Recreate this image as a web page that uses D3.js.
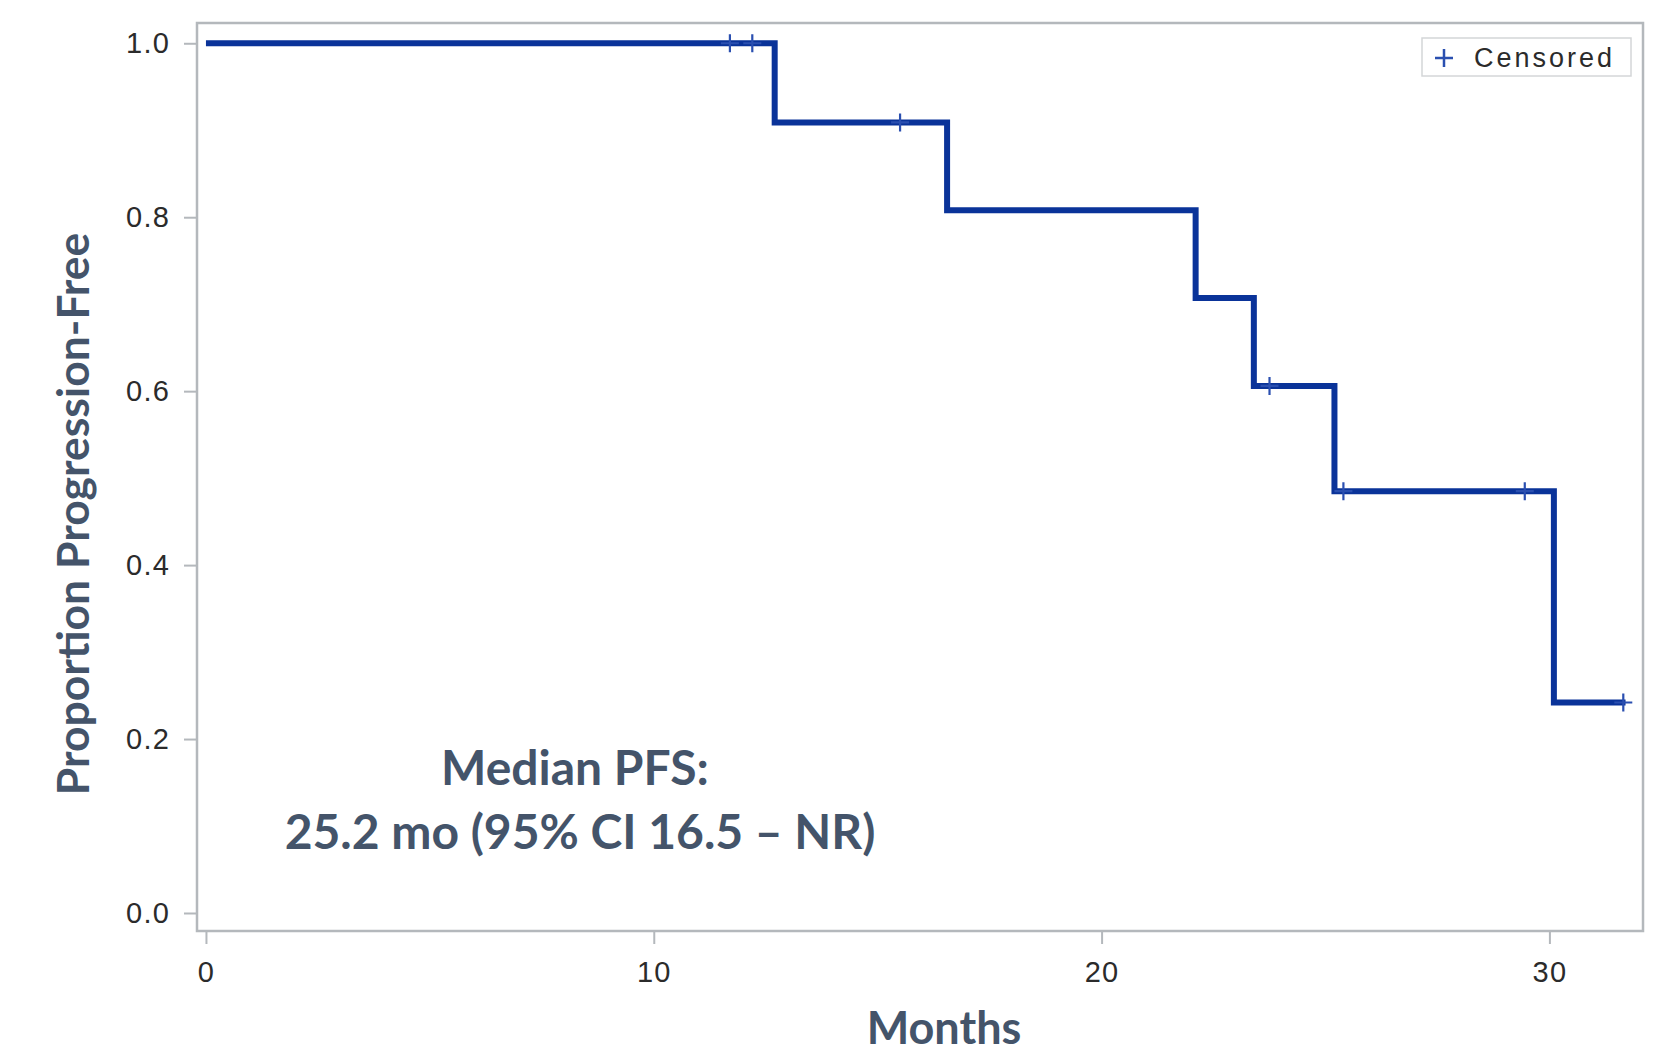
<!DOCTYPE html>
<meta charset="utf-8">
<style>
  body { margin: 0; background: #fff; }
  .tick text { font-family: "Liberation Sans", Arial, sans-serif; font-size: 29px; letter-spacing: 1.2px; fill: #2b2b2b; }
  .title { font-family: Lato, "Open Sans", sans-serif; font-weight: bold; fill: #44546a; }
</style>
<body>
<script src="https://d3js.org/d3.v7.min.js"></script>
<script>
// step curve: time of each drop (0 = start) and proportion after it
var stepTimes = [0, 12.7, 16.55, 22.1, 23.4, 25.2, 30.1];
var stepSurv  = [1.0, 0.909, 0.808, 0.707, 0.606, 0.485, 0.242];
var lastTime  = 31.7;

// censored observations
var censorTimes = [11.7, 12.2, 15.5, 23.75, 25.4, 29.45, 31.65];
var censorSurv  = [1.0, 1.0, 0.909, 0.606, 0.485, 0.485, 0.242];

var xTicks = [0, 10, 20, 30];
var yTicks = [0, 0.2, 0.4, 0.6, 0.8, 1.0];

var W = 1655, H = 1055;
var margin = {top: 23, right: 12, bottom: 124, left: 197};
var width = W - margin.left - margin.right,
    height = H - margin.top - margin.bottom;

var svg = d3.select("body").append("svg")
    .attr("width", W)
    .attr("height", H);

var g = svg.append("g")
    .attr("transform", "translate(" + margin.left + "," + margin.top + ")");

var x = d3.scaleLinear().domain([-0.2, 32.09]).range([0, width]);
var y = d3.scaleLinear().domain([-0.0207, 1.0233]).range([height, 0]);

var lineColor = "#0a3399";
var axisGray = "#b4b8bc";

// axes
var xAxis = g.append("g")
    .attr("transform", "translate(0," + height + ")")
    .call(d3.axisBottom(x).tickValues(xTicks).tickSize(13).tickPadding(17).tickFormat(d3.format("d")));
var yAxis = g.append("g")
    .call(d3.axisLeft(y).tickValues(yTicks).tickSize(13).tickPadding(14).tickFormat(d3.format(".1f")));
[xAxis, yAxis].forEach(function(a) {
  a.select(".domain").remove();
  a.selectAll(".tick line").attr("stroke", axisGray).attr("stroke-width", 2);
});

// frame
g.append("rect")
    .attr("x", 0).attr("y", 0)
    .attr("width", width).attr("height", height)
    .attr("fill", "none")
    .attr("stroke", axisGray)
    .attr("stroke-width", 2.5);

// KM step line
var pts = stepTimes.map(function(t, i) { return [t, stepSurv[i]]; });
pts.push([lastTime, stepSurv[stepSurv.length - 1]]);
var line = d3.line()
    .x(function(d) { return x(d[0]); })
    .y(function(d) { return y(d[1]); })
    .curve(d3.curveStepAfter);

g.append("path")
    .datum(pts)
    .attr("fill", "none")
    .attr("stroke", lineColor)
    .attr("stroke-width", 6)
    .attr("stroke-linejoin", "miter")
    .attr("d", line);

// censor marks
var cens = censorTimes.map(function(t, i) { return {t: t, s: censorSurv[i]}; });
g.selectAll(".cens")
    .data(cens)
  .enter().append("path")
    .attr("class", "cens")
    .attr("transform", function(d) { return "translate(" + x(d.t) + "," + y(d.s) + ")"; })
    .attr("d", "M0,-9V9M-9,0H9")
    .attr("stroke", "#2a4fb0")
    .attr("stroke-width", 2.2);

// legend
var leg = g.append("g").attr("transform", "translate(" + (width - 221) + ",15)");
leg.append("rect")
    .attr("width", 209).attr("height", 38)
    .attr("fill", "#fff")
    .attr("stroke", "#d4d6d8")
    .attr("stroke-width", 1.5);
leg.append("path")
    .attr("d", "M22,11V29M13,20H31")
    .attr("stroke", "#2a4fb0")
    .attr("stroke-width", 2.5);
leg.append("text")
    .attr("x", 52).attr("y", 29)
    .attr("font-family", "Liberation Sans, Arial, sans-serif")
    .attr("font-size", 27)
    .attr("letter-spacing", 3)
    .attr("fill", "#2b2b2b")
    .text("Censored");

// axis titles
svg.append("text")
    .attr("class", "title")
    .attr("x", 944).attr("y", 1044)
    .attr("text-anchor", "middle")
    .attr("font-size", 45)
    .text("Months");

svg.append("text")
    .attr("class", "title")
    .attr("transform", "translate(89,514) rotate(-90)")
    .attr("text-anchor", "middle")
    .attr("font-size", 44.5)
    .text("Proportion Progression-Free");

// median annotation
var note = svg.append("text")
    .attr("class", "title")
    .attr("text-anchor", "middle")
    .attr("font-size", 48);
note.append("tspan").attr("x", 575).attr("y", 785).text("Median PFS:");
note.append("tspan").attr("x", 580).attr("y", 849).text("25.2 mo (95% CI 16.5 \u2013 NR)");
</script>
</body>
